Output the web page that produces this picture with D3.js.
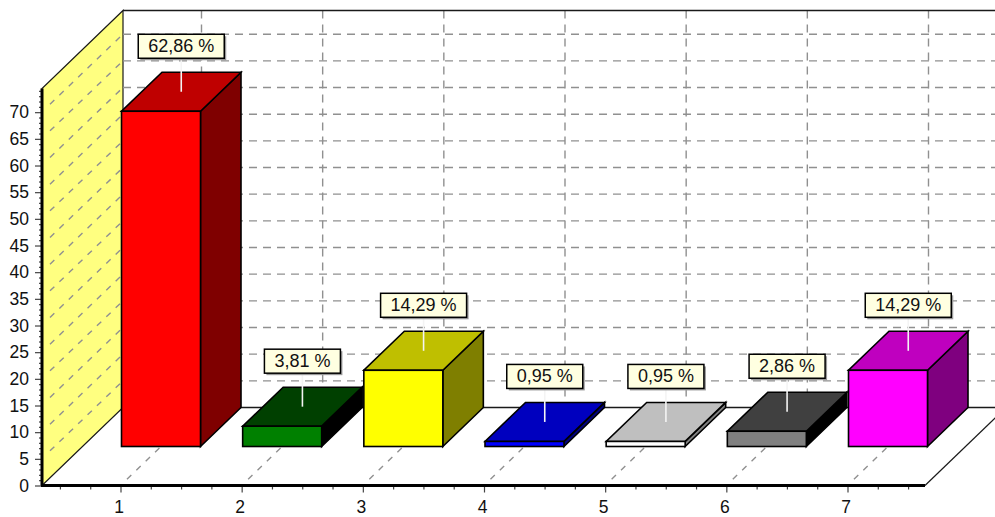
<!DOCTYPE html>
<html>
<head>
<meta charset="utf-8">
<script src="https://cdn.jsdelivr.net/npm/d3@7/dist/d3.min.js"></script>
<style>
  html, body { margin: 0; padding: 0; background: #fff; }
  svg { display: block; }
  text { font-family: "Liberation Sans", Arial, sans-serif; }
</style>
</head>
<body>
<script>
// Chart data
const categories = [1, 2, 3, 4, 5, 6, 7];
const values = [62.86, 3.81, 14.29, 0.95, 0.95, 2.86, 14.29];
const frontColors = ["#ff0000", "#008000", "#ffff00", "#0000ff", "#ffffff", "#808080", "#ff00ff"];
const topColors = ["#bf0000", "#004000", "#bfbf00", "#0000bf", "#bfbfbf", "#404040", "#bf00bf"];
const sideColors = ["#7f0000", "#000000", "#7f7f00", "#00007f", "#808080", "#000000", "#7f007f"];
const yTicks = d3.range(0, 75, 5);
const yMinorTicks = d3.range(0, 75, 1).filter(v => v % 5 !== 0);
const xMinorTicks = [0.5, 0.75, 1.25, 1.5, 1.75, 2.25, 2.5, 2.75, 3.25, 3.5, 3.75, 4.25, 4.5, 4.75, 5.25, 5.5, 5.75, 6.25, 6.5, 6.75, 7.25, 7.5];

const width = 995, height = 517;
const depthX = 81, depthY = 78;       // offset of the back wall from the front plane
const barFrontDepth = 0.5;            // bars occupy the rear half of the floor
const barHalfWidth = 39.5;
const yMax = 74.44;

const x = d3.scaleLinear().domain([1, 7]).range([120.5, 847.5]);
const y = d3.scaleLinear().domain([0, yMax]).range([485.5, 88.5]);
const xEnd = 925, xStart = 42;

// Oblique projection: category, value and depth (0 = front, 1 = back) to screen
const px = (c, d) => x(c) + d * depthX;
const py = (v, d) => y(v) - d * depthY;

const svg = d3.select("body").append("svg").attr("width", width).attr("height", height);
const poly = pts => pts.map(p => p.join(",")).join(" ");
const GRID = "#909090";
const INK = "#1a1a1a";
const GRID_W = 1.4;

// Left wall
svg.append("polygon")
  .attr("points", poly([[xStart, y(0)], [xStart + depthX, y(0) - depthY], [xStart + depthX, y(yMax) - depthY], [xStart, y(yMax)]]))
  .attr("fill", "#ffff80").attr("stroke", INK).attr("stroke-width", 1.2);

// Wall grid, running back from the value axis
svg.append("g").selectAll("line").data(yTicks.slice(1)).join("line")
  .attr("x1", xStart + 8).attr("y1", d => y(d) - 8)
  .attr("x2", xStart + depthX).attr("y2", d => py(d, 1))
  .attr("stroke", GRID).attr("stroke-width", GRID_W).attr("stroke-dasharray", "6 7");

// Back plane frame and grid
const backLeft = xStart + depthX;
svg.append("g").selectAll("line").data(yTicks.slice(1)).join("line")
  .attr("x1", backLeft).attr("x2", width)
  .attr("y1", d => py(d, 1)).attr("y2", d => py(d, 1))
  .attr("stroke", GRID).attr("stroke-width", GRID_W).attr("stroke-dasharray", "8 6");
svg.append("g").selectAll("line").data(categories).join("line")
  .attr("x1", d => px(d, 1)).attr("x2", d => px(d, 1))
  .attr("y1", py(yMax, 1)).attr("y2", py(0, 1))
  .attr("stroke", GRID).attr("stroke-width", GRID_W).attr("stroke-dasharray", "8 6");
svg.append("line")
  .attr("x1", backLeft).attr("x2", width).attr("y1", py(yMax, 1)).attr("y2", py(yMax, 1))
  .attr("stroke", INK).attr("stroke-width", 1.5);
svg.append("line")
  .attr("x1", backLeft).attr("x2", width).attr("y1", py(0, 1)).attr("y2", py(0, 1))
  .attr("stroke", INK).attr("stroke-width", 1.5);

// Floor grid and right-hand floor edge
svg.append("g").selectAll("line").data(categories).join("line")
  .attr("x1", d => px(d, 0.08)).attr("y1", d => py(0, 0.08))
  .attr("x2", d => px(d, 1)).attr("y2", py(0, 1))
  .attr("stroke", GRID).attr("stroke-width", GRID_W).attr("stroke-dasharray", "6 7");
svg.append("line")
  .attr("x1", xEnd).attr("y1", y(0)).attr("x2", xEnd + depthX).attr("y2", y(0) - depthY)
  .attr("stroke", INK).attr("stroke-width", 1.2);

// Bars: side, top and front faces
const bars = svg.append("g").selectAll("g").data(categories).join("g");
const outline = s => s.attr("stroke", "#000").attr("stroke-width", 1.6).attr("stroke-linejoin", "miter");
const fl = (c) => px(c, barFrontDepth) - barHalfWidth;
const fr = (c) => px(c, barFrontDepth) + barHalfWidth;
const dX = (1 - barFrontDepth) * depthX, dY = (1 - barFrontDepth) * depthY;

bars.append("polygon").call(outline)
  .attr("fill", (d, i) => sideColors[i])
  .attr("points", (d, i) => {
    const b = py(0, barFrontDepth), t = py(values[i], barFrontDepth);
    return poly([[fr(d), b], [fr(d) + dX, b - dY], [fr(d) + dX, t - dY], [fr(d), t]]);
  });
bars.append("polygon").call(outline)
  .attr("fill", (d, i) => topColors[i])
  .attr("points", (d, i) => {
    const t = py(values[i], barFrontDepth);
    return poly([[fl(d), t], [fr(d), t], [fr(d) + dX, t - dY], [fl(d) + dX, t - dY]]);
  });
bars.append("rect").call(outline)
  .attr("fill", (d, i) => frontColors[i])
  .attr("x", d => fl(d)).attr("width", barHalfWidth * 2)
  .attr("y", (d, i) => py(values[i], barFrontDepth))
  .attr("height", (d, i) => y(0) - y(values[i]));

// Axes
const axisY = d3.axisLeft(y).tickValues(yTicks).tickSize(7).tickPadding(6).tickFormat(d3.format("d"));
const gy = svg.append("g").attr("transform", `translate(${xStart},0)`).call(axisY);
const axisYMinor = d3.axisLeft(y).tickValues(yMinorTicks).tickSize(3).tickFormat("");
const gym = svg.append("g").attr("transform", `translate(${xStart},0)`).call(axisYMinor);
const axisX = d3.axisBottom(x).tickValues(categories).tickSize(7).tickPadding(8).tickFormat(d3.format("d"));
const gx = svg.append("g").attr("transform", `translate(0,${y(0)})`).call(axisX);
const axisXMinor = d3.axisBottom(x).tickValues(xMinorTicks).tickSize(4).tickFormat("");
const gxm = svg.append("g").attr("transform", `translate(0,${y(0)})`).call(axisXMinor);
[gy, gym, gx, gxm].forEach(g => {
  g.select(".domain").remove();
  g.selectAll("text").attr("font-size", 17.5).attr("fill", "#111").style("font-family", '"Liberation Sans", Arial, sans-serif');
  g.selectAll(".tick line").attr("stroke", "#444").attr("stroke-width", 1.2);
});
gx.selectAll("text").attr("dx", -2);
svg.append("line").attr("x1", xStart).attr("x2", xStart).attr("y1", y(yMax)).attr("y2", y(0))
  .attr("stroke", "#000").attr("stroke-width", 3);
svg.append("line").attr("x1", xStart - 1).attr("x2", xEnd).attr("y1", y(0)).attr("y2", y(0))
  .attr("stroke", "#000").attr("stroke-width", 3);

// Value callouts with a white leader from the centre of each top face
const fmt = v => d3.format(".2f")(v).replace(".", ",") + " %";
const labels = svg.append("g").selectAll("g").data(categories).join("g");
const topCx = c => px(c, barFrontDepth) + dX / 2;
const topCy = i => py(values[i], barFrontDepth) - dY / 2;
labels.append("line")
  .attr("x1", d => topCx(d)).attr("x2", d => topCx(d))
  .attr("y1", (d, i) => topCy(i)).attr("y2", (d, i) => topCy(i) - 33)
  .attr("stroke", "#f4f4f4").attr("stroke-width", 1.6);
labels.each(function (d, i) {
  const g = d3.select(this);
  const cx = topCx(d), bottom = topCy(i) - 33.5, h = 24;
  const t = g.append("text").text(fmt(values[i]))
    .attr("x", cx).attr("y", bottom - 6).attr("text-anchor", "middle")
    .attr("font-size", 18).attr("fill", "#111");
  const w = Math.round(t.node().getComputedTextLength()) + 20;
  g.insert("rect", "text").attr("x", cx - w / 2 + 2).attr("y", bottom - h + 2).attr("width", w).attr("height", h).attr("fill", "#9a9a9a");
  g.insert("rect", "text").attr("x", cx - w / 2).attr("y", bottom - h).attr("width", w).attr("height", h)
    .attr("fill", "#ffffe1").attr("stroke", "#000").attr("stroke-width", 1.5);
});
</script>
</body>
</html>
